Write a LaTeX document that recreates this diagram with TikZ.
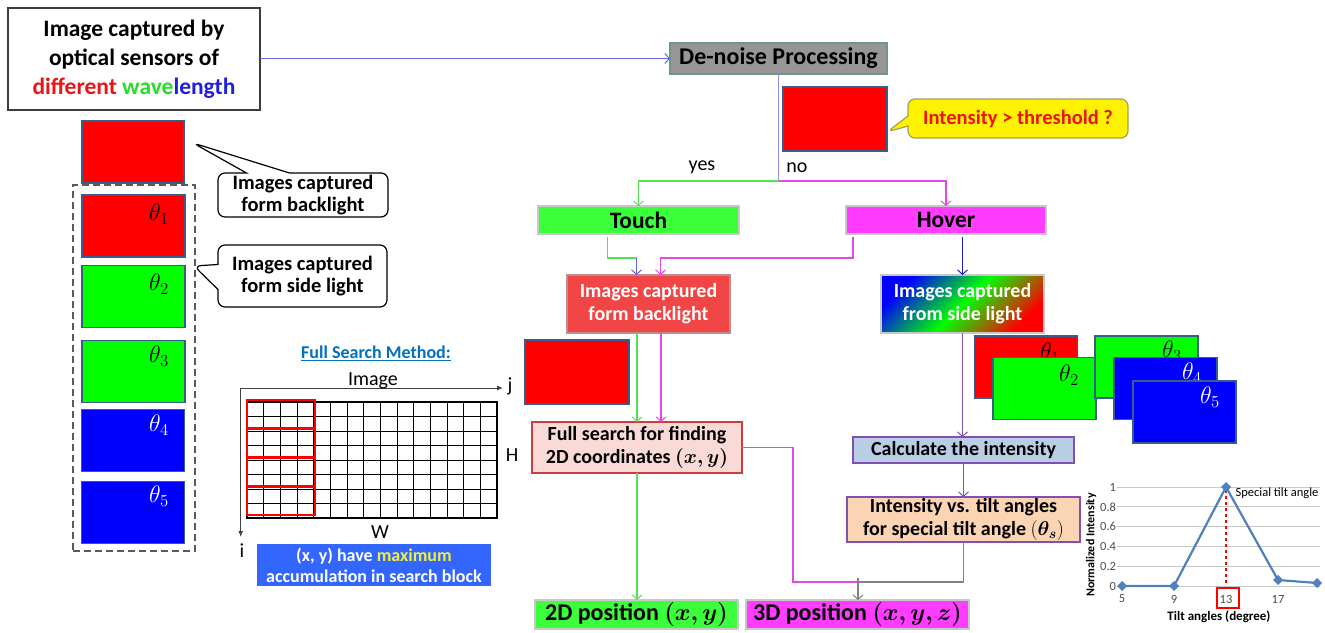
\RequirePackage{fix-cm}
\documentclass[tikz,border=0pt]{standalone}
\usepackage{bm}
\usepackage{fontspec}
\setmainfont{Carlito}
\usetikzlibrary{arrows.meta,shapes.callouts,calc}
\definecolor{dred}{RGB}{235,20,20}
\definecolor{dgreen}{RGB}{40,220,40}
\definecolor{dblue}{RGB}{30,30,220}
\definecolor{titleedge}{RGB}{60,60,60}
\definecolor{imgedge}{RGB}{56,93,138}
\definecolor{imgred}{RGB}{255,0,0}
\definecolor{imggreen}{RGB}{0,255,0}
\definecolor{imgblue}{RGB}{0,0,255}
\definecolor{dashgray}{RGB}{90,90,90}
\definecolor{dnfill}{RGB}{150,150,150}
\definecolor{dnedge}{RGB}{110,150,140}
\definecolor{thredge}{RGB}{160,160,90}
\definecolor{lineblue}{RGB}{100,100,220}
\definecolor{stemblue}{RGB}{140,140,230}
\definecolor{lgreen}{RGB}{80,230,80}
\definecolor{lmag}{RGB}{230,70,230}
\definecolor{boxgreen}{RGB}{60,255,60}
\definecolor{boxmag}{RGB}{255,60,255}
\definecolor{boxedge}{RGB}{200,200,200}
\definecolor{bbfill}{RGB}{242,70,70}
\definecolor{bbedge}{RGB}{190,140,140}
\definecolor{fsfill}{RGB}{250,218,215}
\definecolor{fsedge}{RGB}{205,60,60}
\definecolor{calcfill}{RGB}{185,205,229}
\definecolor{purp}{RGB}{128,80,180}
\definecolor{ivtfill}{RGB}{251,212,180}
\definecolor{darkblue}{RGB}{30,30,200}
\definecolor{grayline}{RGB}{130,130,130}
\definecolor{fsmblue}{RGB}{0,112,192}
\definecolor{bluebox}{RGB}{51,102,255}
\definecolor{maxyellow}{RGB}{240,240,60}
\definecolor{chartblue}{RGB}{79,129,189}
\definecolor{chartgrid}{RGB}{200,200,200}
\newcommand\fsz[2]{\fontsize{#1}{#2}\selectfont}
\begin{document}
\begin{tikzpicture}[x=1pt,y=-1pt,
  every node/.style={inner sep=0pt,outer sep=0pt},
  img/.style={draw=imgedge,line width=1.3pt,minimum width=103pt,minimum height=62pt,fill=#1},
  thl/.style={font=\fsz{24}{26},text=#1},
  flowbox/.style={line width=1.2pt,align=center,font=\bfseries\fsz{20}{23}},
  arr/.style={-{Straight Barb[length=4.5pt,width=10pt,line width=1pt]}},
  conn/.style={line width=1.5pt},
  callo/.style={rectangle callout,line width=1.2pt,rounded corners=7pt,align=center,font=\bfseries\fsz{20.5}{22}},
  plainlab/.style={font=\fsz{20}{22}},
  gridl/.style={line width=0.8pt,black},
  small/.style={font=\fsz{12.5}{13},text=black!70}
]
\useasboundingbox (0,0) rectangle (1325,632);

% ---------- left column ----------
\node[draw=titleedge,line width=1.5pt,minimum width=252pt,minimum height=102pt,align=center,
  font=\bfseries\fsz{23.5}{29}] (title) at (134,59)
  {Image captured by\\optical sensors of\\\textcolor{dred}{different} \textcolor{dgreen}{wave}\textcolor{dblue}{length}};
\node[img=imgred,minimum width=102pt] (bl) at (133,152) {};
\node[draw=dashgray,dash pattern=on 7pt off 4pt,line width=1.2pt,minimum width=122pt,minimum height=366pt] (dbox) at (134,368) {};
\node[img=imgred] (L1) at (133.5,226) {};
\node[thl=black] (lt1) at (159,214) {$\theta_1$};
\node[img=imggreen] (L2) at (133.5,296.5) {};
\node[thl=black] (lt2) at (159,284) {$\theta_2$};
\node[img=imggreen] (L3) at (133.5,371.5) {};
\node[thl=black] (lt3) at (159,356) {$\theta_3$};
\node[img=imgblue] (L4) at (133,440.5) {};
\node[thl=white] (lt4) at (159,425) {$\theta_4$};
\node[img=imgblue] (L5) at (133,512.5) {};
\node[thl=white] (lt5) at (159,496) {$\theta_5$};

\node[callo,draw=black,fill=white,minimum width=170pt,minimum height=44pt,
  callout absolute pointer={(193,143)},callout pointer width=43pt] (cb1) at (303,195)
  {Images captured\\form backlight};
\node[callo,draw=black,fill=white,minimum width=169pt,minimum height=62pt,
  callout absolute pointer={(194,266)},callout pointer width=25pt] (cb2) at (302.5,276)
  {Images captured\\form side light};

% ---------- full search method ----------
\node[font=\bfseries\fsz{18}{20},text=fsmblue] (fsm) at (376,353) {\underline{Full Search Method:}};
\foreach \k in {1,...,14} \draw[gridl] ({247+\k*250/15},402) -- ({247+\k*250/15},518);
\foreach \k in {1,...,7} \draw[gridl] (247,{402+\k*14.5}) -- (497,{402+\k*14.5});
\draw[line width=1.8pt] (247,402) rectangle (497,518);
\foreach \k in {0,...,3} \draw[red,line width=2.8pt] (247,{400+\k*28.75}) rectangle (315,{400+(\k+1)*28.75});
\draw[line width=1pt,black!75,-{Latex[length=6pt,width=5pt]}] (240.7,388) -- (503,388);
\draw[line width=1pt,black!75,-{Latex[length=6pt,width=5pt]}] (240.7,388) -- (240.7,537);
\node[plainlab] (imglab) at (373,381) {Image};
\node[plainlab] (jlab) at (510,386) {j};
\node[plainlab] (ilab) at (242,551) {i};
\node[plainlab] (hlab) at (512,455) {H};
\node[plainlab] (wlab) at (380,532) {W};
\node[fill=bluebox,minimum width=234pt,minimum height=42pt,align=center,text=white,
  font=\bfseries\fsz{18}{21}] (accum) at (374,565)
  {(x, y) have \textcolor{maxyellow}{maximum}\\accumulation in search block};

% ---------- center flow ----------
\node[draw=dnedge,fill=dnfill,line width=1.2pt,minimum width=217pt,minimum height=31pt,
  font=\bfseries\fsz{24}{26}] (dn) at (778.5,58.5) {De-noise Processing};
\node[img=imgred,minimum width=104pt,minimum height=64pt] (rthr) at (835,119) {};
\node[callo,draw=thredge,fill=yellow,text=dred,minimum width=220pt,minimum height=39pt,
  callout absolute pointer={(887,132)},callout pointer width=10pt] (thr) at (1018,118.5)
  {Intensity > threshold ?};

\node[flowbox,draw=boxedge,fill=boxgreen,minimum width=201pt,minimum height=28pt,font=\bfseries\fsz{23.5}{25}] (touch) at (638.5,220) {Touch};
\node[flowbox,draw=boxedge,fill=boxmag,minimum width=200pt,minimum height=28pt,font=\bfseries\fsz{23.5}{25}] (hover) at (946,220) {Hover};
\node[plainlab] (yes) at (702,167) {yes};
\node[plainlab] (no) at (797,168) {no};

\node[flowbox,draw=bbedge,fill=bbfill,text=white,minimum width=163pt,minimum height=58pt] (bb) at (648.5,304) {Images captured\\form backlight};
\node[img=imgred,minimum width=104pt,minimum height=64pt] (rmid) at (577,372) {};
\node[flowbox,draw=fsedge,fill=fsfill,minimum width=210pt,minimum height=51pt] (fs) at (637,447.5) {Full search for finding\\2D coordinates $\bm{(x,y)}$};
\node[flowbox,draw=boxedge,fill=boxgreen,minimum width=203pt,minimum height=29pt,font=\bfseries\fsz{24}{26}] (p2d) at (636.5,614.5) {2D position $\bm{(x,y)}$};
\node[flowbox,draw=boxedge,fill=boxmag,minimum width=223pt,minimum height=29pt,font=\bfseries\fsz{24}{26}] (p3d) at (857.5,614.5) {3D position $\bm{(x,y,z)}$};

% ---------- right flow ----------
\node[flowbox,draw=boxedge,text=white,top color=imgblue,bottom color=imgred,middle color=imggreen,shading angle=45,
  minimum width=163pt,minimum height=58pt] (sl) at (962.5,304) {Images captured\\from side light};
\node[flowbox,draw=purp,fill=calcfill,minimum width=221pt,minimum height=26pt] (calc) at (963.5,450) {Calculate the intensity};
\node[flowbox,draw=purp,fill=ivtfill,minimum width=233pt,minimum height=45pt] (ivt) at (963.5,519.5) {Intensity vs. tilt angles\\for special tilt angle $(\bm{\theta_s})$};

\node[img=imgred] (R1) at (1026,367) {};
\node[thl=black] (rt1) at (1050,353) {$\theta_1$};
\node[img=imggreen] (R2) at (1044.5,388.5) {};
\node[thl=black] (rt2) at (1069,375) {$\theta_2$};
\node[img=imggreen] (R3) at (1146.5,367) {};
\node[thl=black] (rt3) at (1172,351) {$\theta_3$};
\node[img=imgblue] (R4) at (1165.5,388.5) {};
\node[thl=white] (rt4) at (1192,373) {$\theta_4$};
\node[img=imgblue] (R5) at (1184.5,412) {};
\node[thl=white] (rt5) at (1210,397) {$\theta_5$};

% ---------- connectors ----------
\draw[conn,lineblue,arr] (title.east |- dn.west) -- (dn.west);
\coordinate (split) at (778.5,181);
\draw[conn,stemblue] (dn.south) -- (split);
\draw[conn,lgreen,arr] (split) -| (touch.north);
\draw[conn,lmag,arr] (split) -| (hover.north);

\coordinate (tk) at ($(bb.north)+(-12,-17)$);
\draw[conn,lgreen] ($(touch.south)+(-31,3)$) |- (tk);
\draw[conn,lineblue,arr] (tk) -- ($(bb.north)+(-12,0)$);
\draw[conn,lmag,arr] ($(hover.south)+(-93,3)$) |- ($(bb.north)+(12,-17)$) -- ($(bb.north)+(12,0)$);
\draw[conn,darkblue,arr] ($(hover.south -| sl.north)+(0,3)$) -- (sl.north);

\draw[conn,lgreen,arr] (bb.south -| fs.north) -- (fs.north);
\draw[conn,lmag,arr] ($(bb.south)+(12.5,0)$) -- ($(fs.north)+(24,0)$);
\draw[conn,lgreen,arr] (fs.south) -- (fs.south |- p2d.north);

\coordinate (merge) at (858,582);
\draw[conn,lmag] (fs.east) -- ++(51,0) |- (merge);
\draw[conn,grayline] (ivt.south) |- (merge);
\draw[conn,grayline,arr] ($(merge)+(0,-4)$) -- (merge |- p3d.north);

\draw[conn,purp,arr] (sl.south) -- (sl.south |- calc.north);
\draw[conn,purp,arr] (calc.south) -- (calc.south |- ivt.north);

% ---------- chart ----------
\foreach \v in {0,0.2,0.4,0.6,0.8,1} {
  \draw[chartgrid,line width=0.8pt] (1117,{586-99*\v}) -- (1320,{586-99*\v});
  \node[small,anchor=east] (yt\v) at (1116,{586-99*\v}) {\v};
}
\foreach \t in {5,9,13,17} \node[small] (xt\t) at ({1122+13*(\t-5)},599) {\t};
\draw[red,line width=1.6pt] (1217,588) rectangle (1239,608);
\draw[red,dashed,line width=2pt] (1226,490) -- (1226,586);
\draw[chartblue,line width=2.2pt] (1122,586) -- (1174,586) -- (1226,487) -- (1278,580) -- (1317,583);
\foreach \px/\py in {1122/586,1174/586,1226/487,1278/580,1317/583}
  \fill[chartblue] (\px,\py) ++(-5,0) -- ++(5,-5) -- ++(5,5) -- ++(-5,5) -- cycle;
\node[font=\fsz{12.5}{13}] (stl) at (1277,493) {Special tilt angle};
\node[font=\bfseries\fsz{12}{13},rotate=90] (ylab) at (1091,545) {Normalized Intensity};
\node[font=\bfseries\fsz{13}{14}] (xlab) at (1219,617) {Tilt angles (degree)};
\end{tikzpicture}
\end{document}
